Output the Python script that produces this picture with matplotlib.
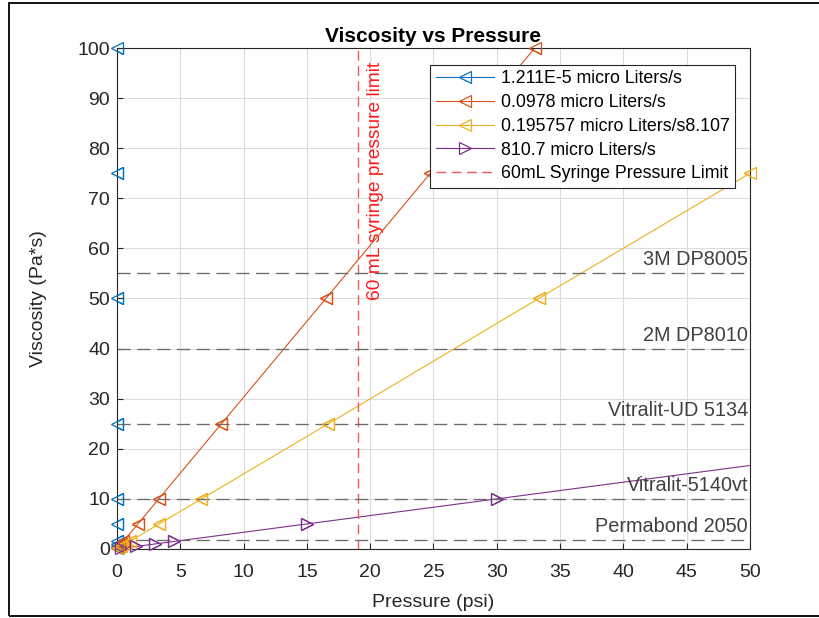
import matplotlib.pyplot as plt
from matplotlib.patches import Rectangle

plt.rcParams['font.family'] = ['Liberation Sans', 'DejaVu Sans']

# viscosity values (Pa*s) used for every flow rate
viscosity = [0.1, 0.5, 1, 1.5, 5, 10, 25, 50, 75, 100]

# pressure (psi) for each flow rate
p_blue = [0.000004, 0.00002, 0.00004, 0.00006, 0.0002, 0.0004, 0.001, 0.002, 0.003, 0.004]
p_red = [0.033, 0.165, 0.33, 0.495, 1.65, 3.3, 8.25, 16.5, 24.75, 33.0]
p_yellow = [0.067, 0.333, 0.667, 1.0, 3.33, 6.67, 16.7, 33.3, 50.0, 66.7]
p_purple = [0.3, 1.5, 3.0, 4.5, 15, 30, 75, 150, 225, 300]

series_labels = ["1.211E-5 micro Liters/s", "0.0978 micro Liters/s",
                 "0.195757 micro Liters/s8.107", "810.7 micro Liters/s"]

syringe_limit = 19.0

adhesive_names = ["3M DP8005", "2M DP8010", "Vitralit-UD 5134", "Vitralit-5140vt", "Permabond 2050"]
adhesive_visc = [55, 40, 25, 10, 1.7]

XMAX, YMAX = 50, 100

fig = plt.figure(figsize=(8.2, 6.18), dpi=100)
ax = fig.add_axes([0.1427, 0.1117, 0.7719, 0.8106])

# outer frame of the screenshot (right side runs off the image)
fig.patches.append(Rectangle((0.011, 0.003), 1.1, 0.992, transform=fig.transFigure,
                             fill=False, edgecolor='black', linewidth=1.3))

colors = ['#0072BD', '#D95319', '#EDB120', '#7E2F8E']
markers = ['<', '<', '<', '>']
for p, c, m, lab in zip([p_blue, p_red, p_yellow, p_purple], colors, markers, series_labels):
    ax.plot(p, viscosity, color=c, marker=m, markerfacecolor='none', markersize=9,
            markeredgewidth=0.9, linewidth=0.8, label=lab)
    # markers inside the limits are not clipped at the axes edge (MATLAB style)
    pts = [(x, y) for x, y in zip(p, viscosity) if x <= XMAX and y <= YMAX]
    ax.plot([q[0] for q in pts], [q[1] for q in pts], linestyle='none', marker=m,
            markerfacecolor='none', markeredgecolor=c, markersize=9,
            markeredgewidth=0.9, clip_on=False, zorder=3)

ax.axvline(syringe_limit, color='#f05a5a', linestyle=(0, (7, 4)), linewidth=1.0,
           label='60mL Syringe Pressure Limit')
ax.text(20.45, 49.6, '60 mL syringe pressure limit', rotation=90, color='#ff1a1a',
        fontsize=13.8, ha='center', va='bottom')

for name, v in zip(adhesive_names, adhesive_visc):
    ax.axhline(v, color='#6a6a6a', linestyle=(0, (10, 5)), linewidth=0.95)
    ax.text(49.85, v + 0.8, name, color='#404040', fontsize=14.3, ha='right', va='bottom')

ax.set_xlim(0, XMAX)
ax.set_ylim(0, YMAX)
ax.set_xticks(range(0, 51, 5))
ax.set_yticks(range(0, 101, 10))
ax.grid(True, color='#dcdcdc', linewidth=0.8)
ax.set_axisbelow(True)
ax.tick_params(direction='in', labelsize=14, colors='#262626', length=4)
ax.tick_params(axis='x', pad=11)
ax.tick_params(axis='y', pad=5)
for s in ax.spines.values():
    s.set_color('#262626')
    s.set_linewidth(0.8)

ax.set_xlabel('Pressure (psi)', fontsize=14, color='#262626', labelpad=9)
ax.set_ylabel('Viscosity (Pa*s)', fontsize=14, color='#262626', labelpad=22)
ax.set_title('Viscosity vs Pressure', fontsize=15, fontweight='bold', pad=4)

leg = ax.legend(loc='upper right', bbox_to_anchor=(0.976, 0.966), borderaxespad=0,
                fancybox=False, framealpha=1, edgecolor='#262626', fontsize=12.8,
                numpoints=1, handlelength=3.3, handletextpad=0.35, borderpad=0.3,
                labelspacing=0.38)
leg.get_frame().set_linewidth(0.8)

fig.savefig('out.png', dpi=100)
